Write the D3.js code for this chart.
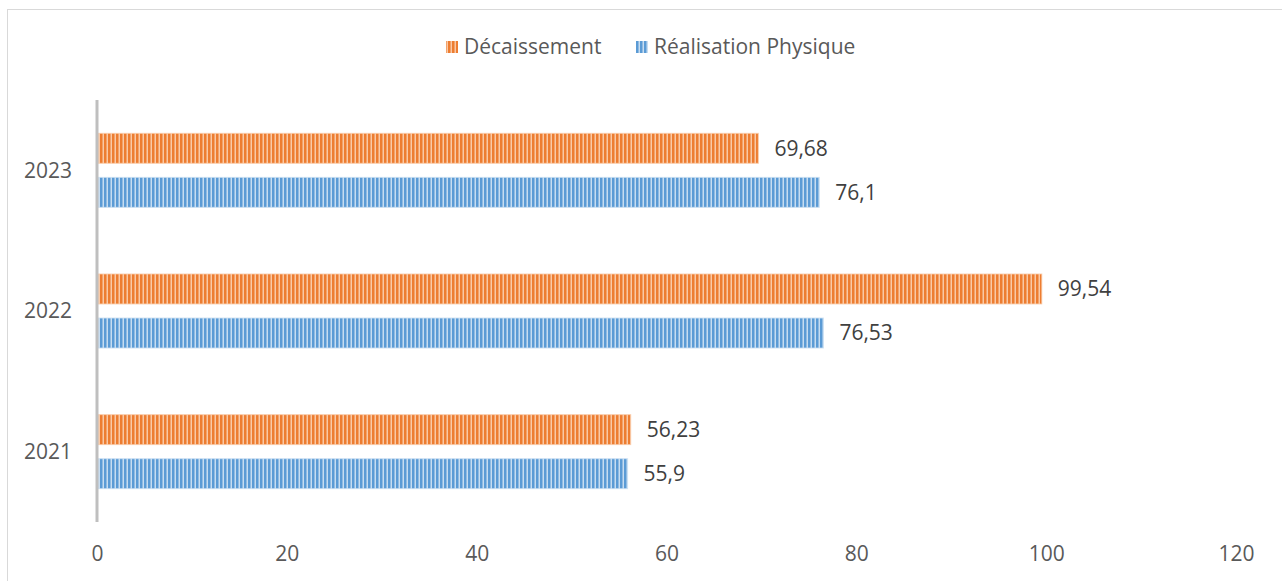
<!DOCTYPE html>
<html><head><meta charset="utf-8">
<script src="https://cdn.jsdelivr.net/npm/d3@7"></script>
<style>body{margin:0;background:#fff;}svg{display:block;font-family:"Open Sans","Noto Sans",sans-serif;}</style>
</head><body>
<svg id="c" width="1282" height="581"></svg>
<script>
const categories = ["2021", "2022", "2023"];
const seriesNames = ["Décaissement", "Réalisation Physique"];
const decaissement = [56.23, 99.54, 69.68];
const realisation = [55.9, 76.53, 76.1];
const labelsDec = ["56,23", "99,54", "69,68"];
const labelsReal = ["55,9", "76,53", "76,1"];
const xTicks = [0, 20, 40, 60, 80, 100, 120];

const colors = {"Décaissement": ["#ed7d31", "#f9c9a6"], "Réalisation Physique": ["#5b9bd5", "#c7ddf1"]};
const svg = d3.select("#c");
const defs = svg.append("defs");
seriesNames.forEach((s, i) => {
  const p = defs.append("pattern").attr("id", "pat" + i).attr("patternUnits", "userSpaceOnUse")
    .attr("width", 4).attr("height", 4);
  p.append("rect").attr("width", 4).attr("height", 4).attr("fill", colors[s][1]);
  p.append("rect").attr("width", 2.5).attr("height", 4).attr("fill", colors[s][0]);
});

// outer border
svg.append("rect").attr("x", 7.5).attr("y", 9.5).attr("width", 1290).attr("height", 600)
  .attr("fill", "none").attr("stroke", "#d9d9d9").attr("stroke-width", 1);

const x = d3.scaleLinear().domain([0, 120]).range([97, 1236]);
const y = d3.scaleBand().domain(categories.slice().reverse()).range([100, 522])
  .paddingInner(0.474).paddingOuter(0.237);
const sub = d3.scaleBand().domain(seriesNames).range([0, y.bandwidth()]).paddingInner(0.32);

const data = [];
categories.forEach((c, i) => {
  data.push({cat: c, s: seriesNames[0], v: decaissement[i], lab: labelsDec[i], idx: 0});
  data.push({cat: c, s: seriesNames[1], v: realisation[i], lab: labelsReal[i], idx: 1});
});

svg.append("g").selectAll("rect").data(data).join("rect")
  .attr("x", x(0) + 1.5)
  .attr("y", d => y(d.cat) + sub(d.s))
  .attr("width", d => x(d.v) - x(0) - 1.5)
  .attr("height", sub.bandwidth())
  .attr("fill", d => "url(#pat" + d.idx + ")")
  .attr("stroke", d => colors[d.s][1]).attr("stroke-width", 1).attr("stroke-opacity", 0.8);

svg.append("g").selectAll("text").data(data).join("text")
  .attr("x", d => x(d.v) + 16)
  .attr("y", d => y(d.cat) + sub(d.s) + sub.bandwidth() / 2)
  .attr("dy", "0.35em")
  .attr("font-size", 21).attr("fill", "#404040")
  .text(d => d.lab);

// vertical axis line
svg.append("line").attr("x1", x(0)).attr("x2", x(0)).attr("y1", 100).attr("y2", 522)
  .attr("stroke", "#bfbfbf").attr("stroke-width", 3);

// category labels
svg.append("g").selectAll("text").data(categories).join("text")
  .attr("x", 72).attr("y", d => y(d) + y.bandwidth() / 2).attr("dy", "0.35em")
  .attr("text-anchor", "end").attr("font-size", 21).attr("fill", "#595959").text(d => d);

// x tick labels
const xAxis = d3.axisBottom(x).tickValues(xTicks).tickSize(0).tickPadding(0).tickFormat(d3.format("d"));
const gx = svg.append("g").attr("transform", "translate(0,546)").call(xAxis);
gx.select(".domain").remove();
gx.selectAll("text").attr("font-size", 21).attr("fill", "#595959")
  .attr("font-family", "'Open Sans','Noto Sans',sans-serif");

// legend
const leg = svg.append("g");
const legItems = [{s: seriesNames[0], i: 0, x: 446}, {s: seriesNames[1], i: 1, x: 636}];
legItems.forEach(it => {
  leg.append("rect").attr("x", it.x).attr("y", 41).attr("width", 12).attr("height", 12)
    .attr("fill", "url(#pat" + it.i + ")");
  leg.append("text").attr("x", it.x + 18).attr("y", 47).attr("dy", "0.35em")
    .attr("font-size", 21).attr("fill", "#595959").text(it.s);
});
</script>
</body></html>
